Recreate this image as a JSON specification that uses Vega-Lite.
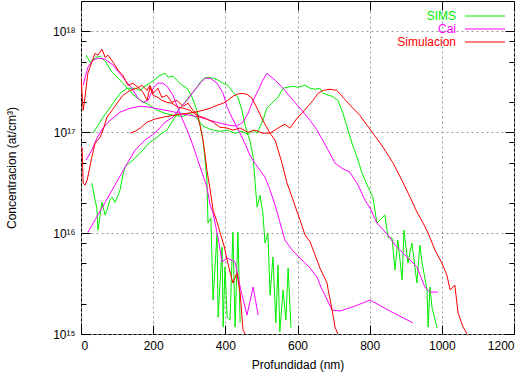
{
  "$schema": "https://vega.github.io/schema/vega-lite/v6.json",
  "width": 433,
  "height": 333,
  "autosize": {"type": "none"},
  "padding": {"left": 81, "top": 1, "right": 13, "bottom": 38},
  "background": "white",
  "config": {
    "view": {"stroke": "black", "strokeWidth": 1},
    "font": "Liberation Sans",
    "axis": {"domain": false, "labelFont": "Liberation Sans", "titleFont": "Liberation Sans", "labelFontSize": 12, "titleFontSize": 12, "titleFontWeight": "normal", "labelColor": "black", "titleColor": "black", "tickColor": "black", "tickWidth": 1, "gridColor": "#999999", "gridDash": [2, 3], "gridWidth": 1},
    "legend": {"labelFont": "Liberation Sans", "labelFontSize": 12}
  },
  "data": {"values": [
    {"s":"SIMS","c":"G1","x":14,"y":5.8e17},{"s":"SIMS","c":"G1","x":25,"y":4.94e17},{"s":"SIMS","c":"G1","x":42,"y":5.53e17},{"s":"SIMS","c":"G1","x":53,"y":5.66e17},{"s":"SIMS","c":"G1","x":69,"y":4.94e17},{"s":"SIMS","c":"G1","x":86,"y":3.93e17},{"s":"SIMS","c":"G1","x":103,"y":3.43e17},{"s":"SIMS","c":"G1","x":116,"y":3.06e17},{"s":"SIMS","c":"G1","x":141,"y":2.43e17},{"s":"SIMS","c":"G1","x":164,"y":2.07e17},{"s":"SIMS","c":"G1","x":186,"y":1.89e17},{"s":"SIMS","c":"G1","x":211,"y":1.65e17},{"s":"SIMS","c":"G1","x":233,"y":1.54e17},{"s":"SIMS","c":"G1","x":255,"y":1.47e17},{"s":"SIMS","c":"G1","x":283,"y":1.44e17},{"s":"SIMS","c":"G1","x":302,"y":1.54e17},{"s":"SIMS","c":"G1","x":321,"y":1.38e17},{"s":"SIMS","c":"G1","x":338,"y":1.15e17},{"s":"SIMS","c":"G1","x":358,"y":1.07e17},{"s":"SIMS","c":"G1","x":385,"y":1.02e17},{"s":"SIMS","c":"G1","x":405,"y":1.05e17},{"s":"SIMS","c":"G1","x":427,"y":9.79e16},{"s":"SIMS","c":"G1","x":446,"y":1.02e17},{"s":"SIMS","c":"G1","x":463,"y":9.57e16},{"s":"SIMS","c":"G1","x":477,"y":1.05e17},{"s":"SIMS","c":"G1","x":488,"y":9.8e16},{"s":"SIMS","c":"G1","x":504,"y":1.31e17},{"s":"SIMS","c":"G1","x":515,"y":1.73e17},{"s":"SIMS","c":"G1","x":529,"y":1.94e17},{"s":"SIMS","c":"G1","x":546,"y":2.22e17},{"s":"SIMS","c":"G1","x":560,"y":2.73e17},{"s":"SIMS","c":"G1","x":588,"y":2.86e17},{"s":"SIMS","c":"G1","x":601,"y":2.79e17},{"s":"SIMS","c":"G1","x":621,"y":2.92e17},{"s":"SIMS","c":"G1","x":635,"y":2.73e17},{"s":"SIMS","c":"G1","x":649,"y":2.67e17},{"s":"SIMS","c":"G1","x":662,"y":2.73e17},{"s":"SIMS","c":"G1","x":671,"y":2.43e17},{"s":"SIMS","c":"G1","x":696,"y":2.27e17},{"s":"SIMS","c":"G1","x":712,"y":2.07e17},{"s":"SIMS","c":"G1","x":726,"y":1.54e17},{"s":"SIMS","c":"G1","x":740,"y":1.05e17},{"s":"SIMS","c":"G1","x":751,"y":7.79e16},{"s":"SIMS","c":"G1","x":765,"y":5.66e16},{"s":"SIMS","c":"G1","x":779,"y":3.93e16},{"s":"SIMS","c":"G1","x":793,"y":2.99e16},{"s":"SIMS","c":"G1","x":809,"y":2.27e16},{"s":"SIMS","c":"G1","x":820,"y":1.26e16},{"s":"SIMS","c":"G1","x":842,"y":1.51e16},{"s":"SIMS","c":"G1","x":851,"y":9.15e15},{"s":"SIMS","c":"G1","x":862,"y":8.94e15},{"s":"SIMS","c":"G1","x":870,"y":4.31e15},{"s":"SIMS","c":"G1","x":878,"y":8.54e15},{"s":"SIMS","c":"G1","x":890,"y":3.43e15},{"s":"SIMS","c":"G1","x":895,"y":1.07e16},{"s":"SIMS","c":"G1","x":906,"y":5.05e15},{"s":"SIMS","c":"G1","x":917,"y":7.97e15},{"s":"SIMS","c":"G1","x":931,"y":3.2e15},{"s":"SIMS","c":"G1","x":939,"y":7.6e15},{"s":"SIMS","c":"G1","x":945,"y":5.17e15},{"s":"SIMS","c":"G1","x":959,"y":2.73e15},{"s":"SIMS","c":"G1","x":962,"y":1.17e15},{"s":"SIMS","c":"G1","x":967,"y":2.92e15},{"s":"SIMS","c":"G1","x":973,"y":1.81e15},{"s":"SIMS","c":"G1","x":987,"y":1.15e15},
    {"s":"SIMS","c":"G2","x":30,"y":3.13e16},{"s":"SIMS","c":"G2","x":39,"y":2.12e16},{"s":"SIMS","c":"G2","x":44,"y":1.77e16},{"s":"SIMS","c":"G2","x":47,"y":1.07e16},{"s":"SIMS","c":"G2","x":53,"y":1.51e16},{"s":"SIMS","c":"G2","x":58,"y":2.02e16},{"s":"SIMS","c":"G2","x":67,"y":1.51e16},{"s":"SIMS","c":"G2","x":72,"y":1.69e16},{"s":"SIMS","c":"G2","x":80,"y":2.12e16},{"s":"SIMS","c":"G2","x":86,"y":2.27e16},{"s":"SIMS","c":"G2","x":94,"y":2.02e16},{"s":"SIMS","c":"G2","x":103,"y":2.38e16},{"s":"SIMS","c":"G2","x":108,"y":2.67e16},{"s":"SIMS","c":"G2","x":116,"y":3.76e16},{"s":"SIMS","c":"G2","x":122,"y":4.51e16},{"s":"SIMS","c":"G2","x":133,"y":4.94e16},{"s":"SIMS","c":"G2","x":144,"y":5.29e16},{"s":"SIMS","c":"G2","x":158,"y":5.93e16},{"s":"SIMS","c":"G2","x":172,"y":6.65e16},{"s":"SIMS","c":"G2","x":183,"y":7.45e16},{"s":"SIMS","c":"G2","x":191,"y":7.97e16},{"s":"SIMS","c":"G2","x":211,"y":8.94e16},{"s":"SIMS","c":"G2","x":224,"y":9.79e16},{"s":"SIMS","c":"G2","x":238,"y":1.05e17},{"s":"SIMS","c":"G2","x":252,"y":1.26e17},{"s":"SIMS","c":"G2","x":263,"y":1.47e17},{"s":"SIMS","c":"G2","x":274,"y":1.73e17},{"s":"SIMS","c":"G2","x":288,"y":1.98e17},{"s":"SIMS","c":"G2","x":302,"y":2.32e17},{"s":"SIMS","c":"G2","x":316,"y":2.6e17},{"s":"SIMS","c":"G2","x":330,"y":3.13e17},{"s":"SIMS","c":"G2","x":341,"y":3.43e17},{"s":"SIMS","c":"G2","x":349,"y":3.51e17},{"s":"SIMS","c":"G2","x":366,"y":3.43e17},{"s":"SIMS","c":"G2","x":380,"y":3.28e17},{"s":"SIMS","c":"G2","x":394,"y":3.06e17},{"s":"SIMS","c":"G2","x":407,"y":2.92e17},{"s":"SIMS","c":"G2","x":421,"y":2.49e17},{"s":"SIMS","c":"G2","x":435,"y":2.22e17},{"s":"SIMS","c":"G2","x":446,"y":1.65e17},{"s":"SIMS","c":"G2","x":455,"y":1.17e17},{"s":"SIMS","c":"G2","x":463,"y":9.36e16},{"s":"SIMS","c":"G2","x":468,"y":8.35e16},{"s":"SIMS","c":"G2","x":477,"y":5.66e16},{"s":"SIMS","c":"G2","x":482,"y":3.35e16},{"s":"SIMS","c":"G2","x":488,"y":1.81e16},{"s":"SIMS","c":"G2","x":496,"y":2.38e16},{"s":"SIMS","c":"G2","x":504,"y":1.58e16},{"s":"SIMS","c":"G2","x":510,"y":7.97e15},{"s":"SIMS","c":"G2","x":518,"y":1.0e16},{"s":"SIMS","c":"G2","x":524,"y":2.43e15},{"s":"SIMS","c":"G2","x":532,"y":5.8e15},{"s":"SIMS","c":"G2","x":540,"y":1.29e15},{"s":"SIMS","c":"G2","x":546,"y":4.83e15},{"s":"SIMS","c":"G2","x":551,"y":1.05e15},{"s":"SIMS","c":"G2","x":560,"y":2.73e15},{"s":"SIMS","c":"G2","x":568,"y":1.38e15},{"s":"SIMS","c":"G2","x":574,"y":4.51e15},{"s":"SIMS","c":"G2","x":582,"y":1.15e15},
    {"s":"SIMS","c":"G3","x":33,"y":9.79e16},{"s":"SIMS","c":"G3","x":47,"y":1.17e17},{"s":"SIMS","c":"G3","x":61,"y":1.41e17},{"s":"SIMS","c":"G3","x":75,"y":1.65e17},{"s":"SIMS","c":"G3","x":89,"y":1.94e17},{"s":"SIMS","c":"G3","x":108,"y":2.43e17},{"s":"SIMS","c":"G3","x":127,"y":2.73e17},{"s":"SIMS","c":"G3","x":150,"y":2.73e17},{"s":"SIMS","c":"G3","x":164,"y":2.6e17},{"s":"SIMS","c":"G3","x":177,"y":2.86e17},{"s":"SIMS","c":"G3","x":191,"y":3.06e17},{"s":"SIMS","c":"G3","x":205,"y":3.35e17},{"s":"SIMS","c":"G3","x":219,"y":3.67e17},{"s":"SIMS","c":"G3","x":233,"y":3.84e17},{"s":"SIMS","c":"G3","x":241,"y":3.51e17},{"s":"SIMS","c":"G3","x":255,"y":3.59e17},{"s":"SIMS","c":"G3","x":266,"y":3.28e17},{"s":"SIMS","c":"G3","x":280,"y":2.92e17},{"s":"SIMS","c":"G3","x":294,"y":2.73e17},{"s":"SIMS","c":"G3","x":308,"y":2.22e17},{"s":"SIMS","c":"G3","x":321,"y":1.65e17},{"s":"SIMS","c":"G3","x":330,"y":1.17e17},{"s":"SIMS","c":"G3","x":338,"y":8.35e16},{"s":"SIMS","c":"G3","x":344,"y":5.29e16},{"s":"SIMS","c":"G3","x":349,"y":3.35e16},{"s":"SIMS","c":"G3","x":352,"y":1.26e16},{"s":"SIMS","c":"G3","x":360,"y":1.41e16},{"s":"SIMS","c":"G3","x":366,"y":2.17e15},{"s":"SIMS","c":"G3","x":377,"y":1.0e16},{"s":"SIMS","c":"G3","x":380,"y":1.47e15},{"s":"SIMS","c":"G3","x":391,"y":7.28e15},{"s":"SIMS","c":"G3","x":394,"y":1.17e15},{"s":"SIMS","c":"G3","x":399,"y":4.62e15},{"s":"SIMS","c":"G3","x":405,"y":1.47e15},{"s":"SIMS","c":"G3","x":413,"y":1.38e15},{"s":"SIMS","c":"G3","x":421,"y":1.02e16},{"s":"SIMS","c":"G3","x":427,"y":1.17e15},{"s":"SIMS","c":"G3","x":435,"y":1.02e16},{"s":"SIMS","c":"G3","x":441,"y":1.29e15},
    {"s":"Cai","c":"M1","x":6,"y":2.92e17},{"s":"Cai","c":"M1","x":19,"y":4.41e17},{"s":"Cai","c":"M1","x":33,"y":5.17e17},{"s":"Cai","c":"M1","x":47,"y":5.41e17},{"s":"Cai","c":"M1","x":67,"y":5.29e17},{"s":"Cai","c":"M1","x":89,"y":4.62e17},{"s":"Cai","c":"M1","x":116,"y":3.51e17},{"s":"Cai","c":"M1","x":141,"y":2.73e17},{"s":"Cai","c":"M1","x":158,"y":2.17e17},{"s":"Cai","c":"M1","x":172,"y":1.98e17},{"s":"Cai","c":"M1","x":186,"y":2.07e17},{"s":"Cai","c":"M1","x":200,"y":2.73e17},{"s":"Cai","c":"M1","x":213,"y":3.06e17},{"s":"Cai","c":"M1","x":227,"y":3.06e17},{"s":"Cai","c":"M1","x":241,"y":2.79e17},{"s":"Cai","c":"M1","x":255,"y":2.32e17},{"s":"Cai","c":"M1","x":274,"y":1.54e17},{"s":"Cai","c":"M1","x":294,"y":1.05e17},{"s":"Cai","c":"M1","x":308,"y":7.79e16},{"s":"Cai","c":"M1","x":321,"y":5.66e16},{"s":"Cai","c":"M1","x":335,"y":4.02e16},{"s":"Cai","c":"M1","x":349,"y":2.86e16},{"s":"Cai","c":"M1","x":358,"y":1.89e16},{"s":"Cai","c":"M1","x":366,"y":1.58e16},{"s":"Cai","c":"M1","x":380,"y":8.94e15},{"s":"Cai","c":"M1","x":391,"y":5.17e15},{"s":"Cai","c":"M1","x":405,"y":5.66e15},{"s":"Cai","c":"M1","x":427,"y":5.17e15},{"s":"Cai","c":"M1","x":443,"y":2.73e15},{"s":"Cai","c":"M1","x":460,"y":1.54e15},{"s":"Cai","c":"M1","x":477,"y":2.92e15},{"s":"Cai","c":"M1","x":491,"y":1.54e15},
    {"s":"Cai","c":"M2","x":19,"y":1.02e16},{"s":"Cai","c":"M2","x":39,"y":1.35e16},{"s":"Cai","c":"M2","x":67,"y":2.02e16},{"s":"Cai","c":"M2","x":94,"y":2.99e16},{"s":"Cai","c":"M2","x":122,"y":4.51e16},{"s":"Cai","c":"M2","x":150,"y":6.65e16},{"s":"Cai","c":"M2","x":177,"y":8.35e16},{"s":"Cai","c":"M2","x":197,"y":9.36e16},{"s":"Cai","c":"M2","x":213,"y":1.05e17},{"s":"Cai","c":"M2","x":233,"y":1.26e17},{"s":"Cai","c":"M2","x":255,"y":1.41e17},{"s":"Cai","c":"M2","x":274,"y":1.73e17},{"s":"Cai","c":"M2","x":294,"y":2.07e17},{"s":"Cai","c":"M2","x":310,"y":2.49e17},{"s":"Cai","c":"M2","x":321,"y":2.79e17},{"s":"Cai","c":"M2","x":333,"y":3.13e17},{"s":"Cai","c":"M2","x":344,"y":3.43e17},{"s":"Cai","c":"M2","x":358,"y":3.43e17},{"s":"Cai","c":"M2","x":377,"y":3.06e17},{"s":"Cai","c":"M2","x":394,"y":2.43e17},{"s":"Cai","c":"M2","x":405,"y":1.77e17},{"s":"Cai","c":"M2","x":418,"y":1.41e17},{"s":"Cai","c":"M2","x":432,"y":1.12e17},{"s":"Cai","c":"M2","x":441,"y":9.79e16},{"s":"Cai","c":"M2","x":455,"y":7.62e16},{"s":"Cai","c":"M2","x":468,"y":5.93e16},{"s":"Cai","c":"M2","x":482,"y":4.94e16},{"s":"Cai","c":"M2","x":496,"y":4.2e16},{"s":"Cai","c":"M2","x":510,"y":3.59e16},{"s":"Cai","c":"M2","x":524,"y":2.67e16},{"s":"Cai","c":"M2","x":538,"y":1.89e16},{"s":"Cai","c":"M2","x":551,"y":1.29e16},{"s":"Cai","c":"M2","x":565,"y":8.54e15},{"s":"Cai","c":"M2","x":585,"y":6.8e15},{"s":"Cai","c":"M2","x":607,"y":5.66e15},{"s":"Cai","c":"M2","x":635,"y":4.51e15},{"s":"Cai","c":"M2","x":654,"y":3.67e15},{"s":"Cai","c":"M2","x":665,"y":2.92e15},{"s":"Cai","c":"M2","x":676,"y":2.43e15},{"s":"Cai","c":"M2","x":696,"y":1.73e15},{"s":"Cai","c":"M2","x":718,"y":1.69e15},{"s":"Cai","c":"M2","x":759,"y":1.89e15},{"s":"Cai","c":"M2","x":801,"y":2.17e15},{"s":"Cai","c":"M2","x":856,"y":1.69e15},{"s":"Cai","c":"M2","x":920,"y":1.29e15},
    {"s":"Cai","c":"M3","x":14,"y":5.29e16},{"s":"Cai","c":"M3","x":30,"y":6.65e16},{"s":"Cai","c":"M3","x":44,"y":8.73e16},{"s":"Cai","c":"M3","x":61,"y":1.1e17},{"s":"Cai","c":"M3","x":80,"y":1.31e17},{"s":"Cai","c":"M3","x":108,"y":1.58e17},{"s":"Cai","c":"M3","x":136,"y":1.73e17},{"s":"Cai","c":"M3","x":164,"y":1.81e17},{"s":"Cai","c":"M3","x":191,"y":1.77e17},{"s":"Cai","c":"M3","x":219,"y":1.69e17},{"s":"Cai","c":"M3","x":247,"y":1.62e17},{"s":"Cai","c":"M3","x":274,"y":1.54e17},{"s":"Cai","c":"M3","x":302,"y":1.47e17},{"s":"Cai","c":"M3","x":330,"y":1.41e17},{"s":"Cai","c":"M3","x":358,"y":1.31e17},{"s":"Cai","c":"M3","x":385,"y":1.23e17},{"s":"Cai","c":"M3","x":413,"y":1.17e17},{"s":"Cai","c":"M3","x":432,"y":1.15e17},{"s":"Cai","c":"M3","x":449,"y":1.26e17},{"s":"Cai","c":"M3","x":463,"y":1.54e17},{"s":"Cai","c":"M3","x":477,"y":2.07e17},{"s":"Cai","c":"M3","x":491,"y":2.6e17},{"s":"Cai","c":"M3","x":504,"y":3.28e17},{"s":"Cai","c":"M3","x":515,"y":3.84e17},{"s":"Cai","c":"M3","x":538,"y":3.28e17},{"s":"Cai","c":"M3","x":560,"y":2.73e17},{"s":"Cai","c":"M3","x":588,"y":2.07e17},{"s":"Cai","c":"M3","x":607,"y":1.73e17},{"s":"Cai","c":"M3","x":635,"y":1.31e17},{"s":"Cai","c":"M3","x":654,"y":1.05e17},{"s":"Cai","c":"M3","x":676,"y":7.62e16},{"s":"Cai","c":"M3","x":704,"y":4.94e16},{"s":"Cai","c":"M3","x":723,"y":4.41e16},{"s":"Cai","c":"M3","x":745,"y":4.02e16},{"s":"Cai","c":"M3","x":768,"y":2.99e16},{"s":"Cai","c":"M3","x":787,"y":2.12e16},{"s":"Cai","c":"M3","x":801,"y":1.77e16},{"s":"Cai","c":"M3","x":820,"y":1.26e16},{"s":"Cai","c":"M3","x":851,"y":9.57e15},{"s":"Cai","c":"M3","x":870,"y":7.62e15},{"s":"Cai","c":"M3","x":892,"y":6.35e15},{"s":"Cai","c":"M3","x":912,"y":5.41e15},{"s":"Cai","c":"M3","x":931,"y":4.62e15},{"s":"Cai","c":"M3","x":953,"y":2.92e15},{"s":"Cai","c":"M3","x":967,"y":2.6e15},{"s":"Cai","c":"M3","x":989,"y":2.6e15},
    {"s":"Simulacion","c":"R1","x":0,"y":3.51e17},{"s":"Simulacion","c":"R1","x":6,"y":1.65e17},{"s":"Simulacion","c":"R1","x":11,"y":2.22e17},{"s":"Simulacion","c":"R1","x":19,"y":3.84e17},{"s":"Simulacion","c":"R1","x":30,"y":4.94e17},{"s":"Simulacion","c":"R1","x":39,"y":6.06e17},{"s":"Simulacion","c":"R1","x":47,"y":5.8e17},{"s":"Simulacion","c":"R1","x":58,"y":6.65e17},{"s":"Simulacion","c":"R1","x":67,"y":5.53e17},{"s":"Simulacion","c":"R1","x":75,"y":5.8e17},{"s":"Simulacion","c":"R1","x":89,"y":4.94e17},{"s":"Simulacion","c":"R1","x":103,"y":4.11e17},{"s":"Simulacion","c":"R1","x":116,"y":3.67e17},{"s":"Simulacion","c":"R1","x":130,"y":2.92e17},{"s":"Simulacion","c":"R1","x":144,"y":3.06e17},{"s":"Simulacion","c":"R1","x":158,"y":2.79e17},{"s":"Simulacion","c":"R1","x":172,"y":2.49e17},{"s":"Simulacion","c":"R1","x":183,"y":2.07e17},{"s":"Simulacion","c":"R1","x":191,"y":2.79e17},{"s":"Simulacion","c":"R1","x":200,"y":2.32e17},{"s":"Simulacion","c":"R1","x":213,"y":2.22e17},{"s":"Simulacion","c":"R1","x":224,"y":2.07e17},{"s":"Simulacion","c":"R1","x":238,"y":1.98e17},{"s":"Simulacion","c":"R1","x":252,"y":1.94e17},{"s":"Simulacion","c":"R1","x":269,"y":1.77e17},{"s":"Simulacion","c":"R1","x":283,"y":1.73e17},{"s":"Simulacion","c":"R1","x":302,"y":1.65e17},{"s":"Simulacion","c":"R1","x":321,"y":1.47e17},{"s":"Simulacion","c":"R1","x":344,"y":1.38e17},{"s":"Simulacion","c":"R1","x":366,"y":1.26e17},{"s":"Simulacion","c":"R1","x":385,"y":1.12e17},{"s":"Simulacion","c":"R1","x":405,"y":1.1e17},{"s":"Simulacion","c":"R1","x":421,"y":1.05e17},{"s":"Simulacion","c":"R1","x":441,"y":1.1e17},{"s":"Simulacion","c":"R1","x":463,"y":1.0e17},{"s":"Simulacion","c":"R1","x":482,"y":1.05e17},{"s":"Simulacion","c":"R1","x":502,"y":9.79e16},{"s":"Simulacion","c":"R1","x":524,"y":9.79e16},{"s":"Simulacion","c":"R1","x":546,"y":1.1e17},{"s":"Simulacion","c":"R1","x":565,"y":1.2e17},{"s":"Simulacion","c":"R1","x":579,"y":1.1e17},{"s":"Simulacion","c":"R1","x":599,"y":1.38e17},{"s":"Simulacion","c":"R1","x":615,"y":1.58e17},{"s":"Simulacion","c":"R1","x":643,"y":2.07e17},{"s":"Simulacion","c":"R1","x":657,"y":2.43e17},{"s":"Simulacion","c":"R1","x":671,"y":2.6e17},{"s":"Simulacion","c":"R1","x":690,"y":2.67e17},{"s":"Simulacion","c":"R1","x":709,"y":2.6e17},{"s":"Simulacion","c":"R1","x":726,"y":2.22e17},{"s":"Simulacion","c":"R1","x":751,"y":1.77e17},{"s":"Simulacion","c":"R1","x":773,"y":1.47e17},{"s":"Simulacion","c":"R1","x":793,"y":1.17e17},{"s":"Simulacion","c":"R1","x":809,"y":9.79e16},{"s":"Simulacion","c":"R1","x":837,"y":7.11e16},{"s":"Simulacion","c":"R1","x":865,"y":4.94e16},{"s":"Simulacion","c":"R1","x":892,"y":3.2e16},{"s":"Simulacion","c":"R1","x":912,"y":2.27e16},{"s":"Simulacion","c":"R1","x":931,"y":1.62e16},{"s":"Simulacion","c":"R1","x":948,"y":1.26e16},{"s":"Simulacion","c":"R1","x":962,"y":1.0e16},{"s":"Simulacion","c":"R1","x":981,"y":6.8e15},{"s":"Simulacion","c":"R1","x":1000,"y":5.05e15},{"s":"Simulacion","c":"R1","x":1014,"y":3.84e15},{"s":"Simulacion","c":"R1","x":1023,"y":2.73e15},{"s":"Simulacion","c":"R1","x":1036,"y":3.06e15},{"s":"Simulacion","c":"R1","x":1045,"y":1.62e15},{"s":"Simulacion","c":"R1","x":1059,"y":1.17e15},{"s":"Simulacion","c":"R1","x":1070,"y":1.0e15},
    {"s":"Simulacion","c":"R2","x":3,"y":7.11e16},{"s":"Simulacion","c":"R2","x":6,"y":3.13e16},{"s":"Simulacion","c":"R2","x":11,"y":2.99e16},{"s":"Simulacion","c":"R2","x":17,"y":3.35e16},{"s":"Simulacion","c":"R2","x":30,"y":5.66e16},{"s":"Simulacion","c":"R2","x":39,"y":7.79e16},{"s":"Simulacion","c":"R2","x":53,"y":8.94e16},{"s":"Simulacion","c":"R2","x":61,"y":1.05e17},{"s":"Simulacion","c":"R2","x":72,"y":1.41e17},{"s":"Simulacion","c":"R2","x":86,"y":1.65e17},{"s":"Simulacion","c":"R2","x":100,"y":1.94e17},{"s":"Simulacion","c":"R2","x":116,"y":2.32e17},{"s":"Simulacion","c":"R2","x":136,"y":2.6e17},{"s":"Simulacion","c":"R2","x":155,"y":2.73e17},{"s":"Simulacion","c":"R2","x":169,"y":2.92e17},{"s":"Simulacion","c":"R2","x":183,"y":2.6e17},{"s":"Simulacion","c":"R2","x":191,"y":2.92e17},{"s":"Simulacion","c":"R2","x":200,"y":2.43e17},{"s":"Simulacion","c":"R2","x":213,"y":2.73e17},{"s":"Simulacion","c":"R2","x":224,"y":2.22e17},{"s":"Simulacion","c":"R2","x":238,"y":2.32e17},{"s":"Simulacion","c":"R2","x":252,"y":1.98e17},{"s":"Simulacion","c":"R2","x":266,"y":2.07e17},{"s":"Simulacion","c":"R2","x":283,"y":1.81e17},{"s":"Simulacion","c":"R2","x":297,"y":1.94e17},{"s":"Simulacion","c":"R2","x":310,"y":1.65e17},{"s":"Simulacion","c":"R2","x":321,"y":1.54e17},{"s":"Simulacion","c":"R2","x":330,"y":1.17e17},{"s":"Simulacion","c":"R2","x":338,"y":8.35e16},{"s":"Simulacion","c":"R2","x":344,"y":5.93e16},{"s":"Simulacion","c":"R2","x":349,"y":4.2e16},{"s":"Simulacion","c":"R2","x":358,"y":2.67e16},{"s":"Simulacion","c":"R2","x":366,"y":1.69e16},{"s":"Simulacion","c":"R2","x":377,"y":1.29e16},{"s":"Simulacion","c":"R2","x":385,"y":1.02e16},{"s":"Simulacion","c":"R2","x":396,"y":7.62e15},{"s":"Simulacion","c":"R2","x":405,"y":5.41e15},{"s":"Simulacion","c":"R2","x":413,"y":4.11e15},{"s":"Simulacion","c":"R2","x":421,"y":3.2e15},{"s":"Simulacion","c":"R2","x":432,"y":4.02e15},{"s":"Simulacion","c":"R2","x":441,"y":2.55e15},{"s":"Simulacion","c":"R2","x":449,"y":1.1e15},{"s":"Simulacion","c":"R2","x":455,"y":1.0e15},
    {"s":"Simulacion","c":"R4","x":136,"y":9.79e16},{"s":"Simulacion","c":"R4","x":150,"y":1.02e17},{"s":"Simulacion","c":"R4","x":164,"y":1.1e17},{"s":"Simulacion","c":"R4","x":183,"y":1.26e17},{"s":"Simulacion","c":"R4","x":205,"y":1.35e17},{"s":"Simulacion","c":"R4","x":227,"y":1.41e17},{"s":"Simulacion","c":"R4","x":255,"y":1.47e17},{"s":"Simulacion","c":"R4","x":274,"y":1.51e17},{"s":"Simulacion","c":"R4","x":294,"y":1.54e17},{"s":"Simulacion","c":"R4","x":316,"y":1.58e17},{"s":"Simulacion","c":"R4","x":338,"y":1.65e17},{"s":"Simulacion","c":"R4","x":358,"y":1.73e17},{"s":"Simulacion","c":"R4","x":377,"y":1.85e17},{"s":"Simulacion","c":"R4","x":394,"y":1.94e17},{"s":"Simulacion","c":"R4","x":407,"y":2.07e17},{"s":"Simulacion","c":"R4","x":421,"y":2.27e17},{"s":"Simulacion","c":"R4","x":432,"y":2.38e17},{"s":"Simulacion","c":"R4","x":446,"y":2.43e17},{"s":"Simulacion","c":"R4","x":460,"y":2.38e17},{"s":"Simulacion","c":"R4","x":474,"y":2.17e17},{"s":"Simulacion","c":"R4","x":488,"y":1.73e17},{"s":"Simulacion","c":"R4","x":504,"y":1.31e17},{"s":"Simulacion","c":"R4","x":524,"y":9.79e16},{"s":"Simulacion","c":"R4","x":538,"y":8.35e16},{"s":"Simulacion","c":"R4","x":557,"y":4.94e16},{"s":"Simulacion","c":"R4","x":571,"y":3.13e16},{"s":"Simulacion","c":"R4","x":585,"y":2.27e16},{"s":"Simulacion","c":"R4","x":599,"y":1.62e16},{"s":"Simulacion","c":"R4","x":607,"y":1.35e16},{"s":"Simulacion","c":"R4","x":621,"y":9.57e15},{"s":"Simulacion","c":"R4","x":635,"y":8.16e15},{"s":"Simulacion","c":"R4","x":654,"y":5.41e15},{"s":"Simulacion","c":"R4","x":662,"y":4.51e15},{"s":"Simulacion","c":"R4","x":682,"y":3.2e15},{"s":"Simulacion","c":"R4","x":685,"y":2.73e15},{"s":"Simulacion","c":"R4","x":696,"y":1.73e15},{"s":"Simulacion","c":"R4","x":704,"y":1.17e15},{"s":"Simulacion","c":"R4","x":712,"y":1.0e15}
  ]},
  "encoding": {
    "x": {"field": "x", "type": "quantitative", "scale": {"domain": [0, 1200], "nice": false, "zero": false}},
    "y": {"field": "y", "type": "quantitative", "scale": {"type": "log", "domain": [1e15, 2e18], "nice": false}},
    "color": {"field": "s", "type": "nominal", "scale": {"domain": ["SIMS", "Cai", "Simulacion"], "range": ["#00ee00", "#ff00ff", "#ff0000"]},
      "legend": {"title": null, "orient": "none", "legendX": 378, "legendY": 9, "padding": 0, "rowPadding": 1, "symbolType": "M0,0H8", "symbolSize": 100, "symbolStrokeWidth": 1, "labelFontSize": 12,
        "encode": {"labels": {"update": {"x": {"value": -3}, "align": {"value": "right"}, "fill": {"scale": "color", "field": "value"}}}}}},
    "detail": {"field": "c"}
  },
  "layer": [
    {"transform": [{"filter": "datum.s == 'SIMS'"}], "mark": {"type": "line", "strokeWidth": 1, "clip": true},
     "encoding": {
       "x": {"field": "x", "type": "quantitative", "title": "Profundidad (nm)", "axis": {"orient": "bottom", "values": [0, 200, 400, 600, 800, 1000, 1200], "format": "d", "tickSize": -9, "labelPadding": 15, "grid": true, "titlePadding": 8}},
       "y": {"field": "y", "type": "quantitative", "title": "Concentracion (at/cm³)", "axis": {"orient": "left", "values": [1e15, 1e16, 1e17, 1e18], "tickSize": -9, "labelPadding": 15, "grid": true, "titlePadding": 34, "labelExpr": "datum.value < 5e15 ? '10¹⁵' : datum.value < 5e16 ? '10¹⁶' : datum.value < 5e17 ? '10¹⁷' : '10¹⁸'"}}
     }},
    {"transform": [{"filter": "datum.s == 'Cai'"}], "mark": {"type": "line", "strokeWidth": 1, "clip": true},
     "encoding": {
       "x": {"field": "x", "type": "quantitative", "axis": {"orient": "top", "values": [0, 200, 400, 600, 800, 1000, 1200], "tickSize": -9, "labels": false, "grid": false, "title": null}},
       "y": {"field": "y", "type": "quantitative", "axis": {"orient": "right", "values": [1e15, 1e16, 1e17, 1e18], "tickSize": -9, "labels": false, "grid": false, "title": null}}
     }},
    {"transform": [{"filter": "datum.s == 'Simulacion' && datum.c != 'R1'"}], "mark": {"type": "line", "strokeWidth": 1, "clip": true},
     "encoding": {
       "x": {"field": "x", "type": "quantitative", "axis": null},
       "y": {"field": "y", "type": "quantitative", "axis": {"orient": "left", "values": [2e15, 5e15, 8e15, 2e16, 5e16, 8e16, 2e17, 5e17, 8e17], "tickSize": -5, "labels": false, "grid": false, "title": null}}
     }},
    {"transform": [{"filter": "datum.c == 'R1'"}], "mark": {"type": "line", "strokeWidth": 1, "clip": true},
     "encoding": {
       "x": {"field": "x", "type": "quantitative", "axis": null},
       "y": {"field": "y", "type": "quantitative", "axis": {"orient": "right", "values": [2e15, 5e15, 8e15, 2e16, 5e16, 8e16, 2e17, 5e17, 8e17], "tickSize": -5, "labels": false, "grid": false, "title": null}}
     }}
  ],
  "resolve": {"axis": {"x": "independent", "y": "independent"}}
}
